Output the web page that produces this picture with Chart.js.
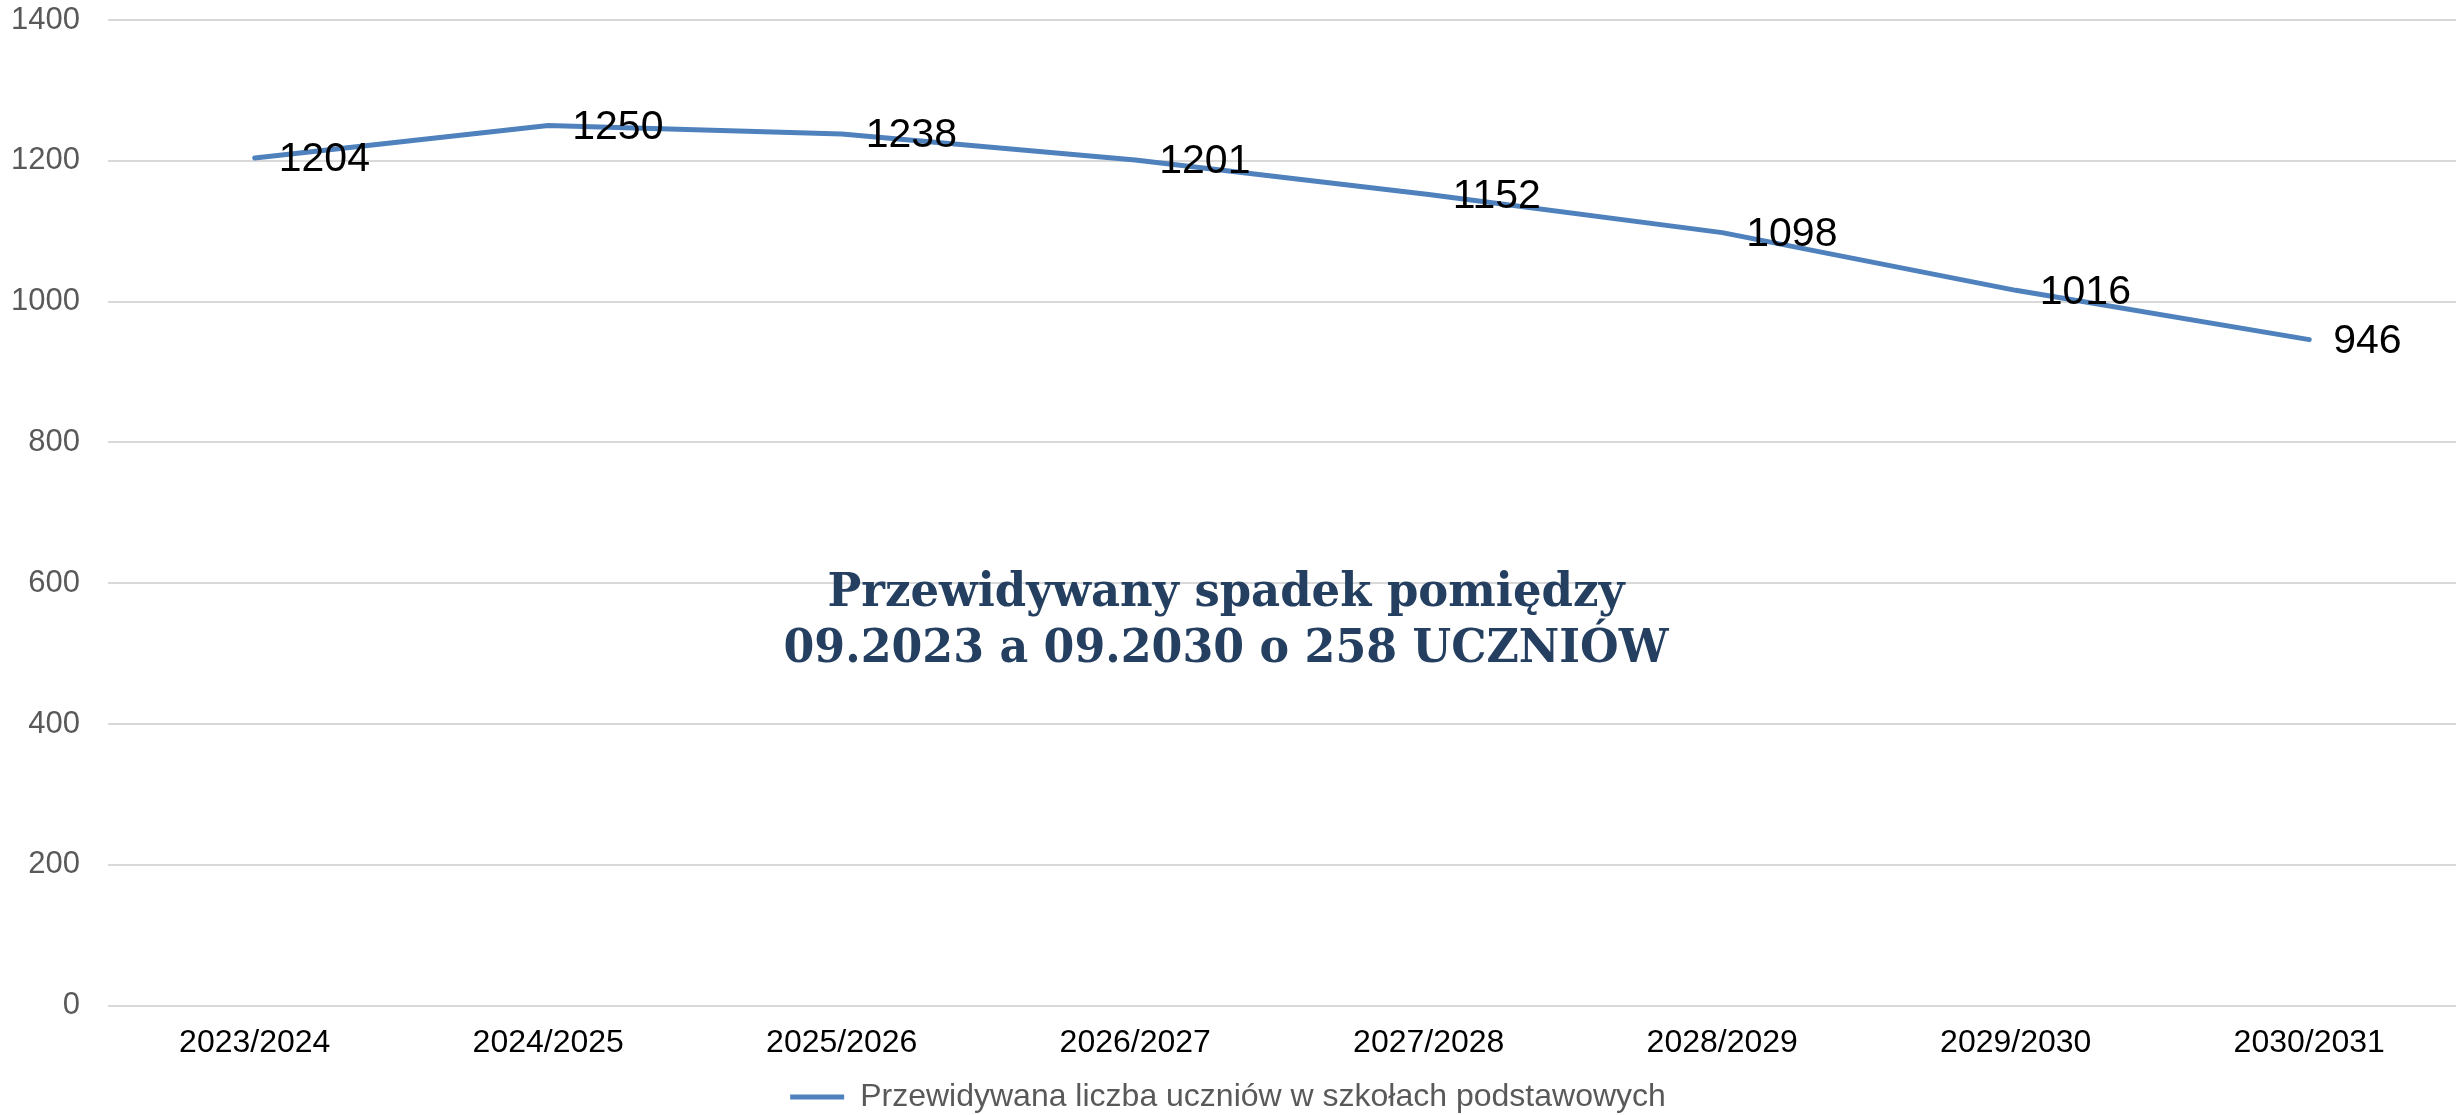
<!DOCTYPE html>
<html>
<head>
<meta charset="utf-8">
<script src="https://cdn.jsdelivr.net/npm/chart.js@4/dist/chart.umd.min.js"></script>
<style>
  html, body { margin: 0; padding: 0; background: #ffffff; }
  #wrap { position: relative; width: 2464px; height: 1115px; }
</style>
</head>
<body>
<div id="wrap"><canvas id="c"></canvas></div>
<script>
const categories = ["2023/2024", "2024/2025", "2025/2026", "2026/2027", "2027/2028", "2028/2029", "2029/2030", "2030/2031"];
const seriesName = "Przewidywana liczba uczniów w szkołach podstawowych";
const seriesValues = [1204, 1250, 1238, 1201, 1152, 1098, 1016, 946];
const yTicks = [0, 200, 400, 600, 800, 1000, 1200, 1400];
const annotationLines = ["Przewidywany spadek pomiędzy", "09.2023 a 09.2030 o 258 UCZNIÓW"];

const SANS = "'Liberation Sans', Arial, sans-serif";
const LINE_COLOR = "#4f81bd";

const dataLabelPlugin = {
  id: "dataLabels",
  afterDatasetsDraw(chart) {
    const ctx = chart.ctx;
    const meta = chart.getDatasetMeta(0);
    ctx.save();
    ctx.font = "41px " + SANS;
    ctx.fillStyle = "#000000";
    ctx.textAlign = "left";
    ctx.textBaseline = "middle";
    meta.data.forEach((pt, i) => {
      ctx.fillText(String(seriesValues[i]), pt.x + 24, pt.y + 2);
    });
    ctx.restore();
  }
};

const annotationPlugin = {
  id: "annotationText",
  afterDraw(chart) {
    const ctx = chart.ctx;
    const cx = 1226;
    const baselines = [606, 662];
    const widths = [797, 885];
    ctx.save();
    ctx.fillStyle = "#243f60";
    ctx.textAlign = "left";
    ctx.textBaseline = "alphabetic";
    ctx.font = "bold 46px 'DejaVu Serif', 'Liberation Serif', serif";
    annotationLines.forEach((t, i) => {
      const w = ctx.measureText(t).width;
      const s = widths[i] / w;
      ctx.save();
      ctx.translate(cx - widths[i] / 2, baselines[i]);
      ctx.scale(s, 1);
      ctx.fillText(t, 0, 0);
      ctx.restore();
    });
    ctx.restore();
  }
};

new Chart(document.getElementById("c"), {
  type: "line",
  data: {
    labels: categories,
    datasets: [{
      label: seriesName,
      data: seriesValues,
      borderColor: LINE_COLOR,
      backgroundColor: LINE_COLOR,
      borderWidth: 5,
      pointRadius: 0,
      pointHoverRadius: 0,
      tension: 0,
      fill: false,
      borderCapStyle: "round",
      borderJoinStyle: "round"
    }]
  },
  options: {
    responsive: true,
    maintainAspectRatio: false,
    animation: false,
    layout: { padding: { top: 20, right: 8, bottom: -8, left: 0 } },
    plugins: {
      tooltip: { enabled: false },
      legend: {
        display: true,
        position: "bottom",
        labels: {
          font: { size: 32, family: SANS },
          color: "#595959",
          boxWidth: 54,
          boxHeight: 5,
          padding: 0,
          generateLabels(chart) {
            const items = Chart.defaults.plugins.legend.labels.generateLabels(chart);
            items.forEach(it => { it.lineWidth = 0; it.fillStyle = LINE_COLOR; it.strokeStyle = LINE_COLOR; });
            return items;
          }
        }
      }
    },
    scales: {
      x: {
        offset: true,
        grid: { display: false, drawTicks: false },
        border: { display: false },
        ticks: {
          font: { size: 32, family: SANS },
          color: "#000000",
          padding: 18.5,
          maxRotation: 0,
          autoSkip: false
        }
      },
      y: {
        min: 0,
        max: 1400,
        afterBuildTicks(scale) { scale.ticks = yTicks.map(v => ({ value: v })); },
        afterFit(scale) { scale.width = 108; scale.paddingTop = 0; scale.paddingBottom = 0; },
        grid: { color: "#d9d9d9", lineWidth: 2, drawTicks: false },
        border: { display: false },
        ticks: {
          font: { size: 31, family: SANS },
          color: "#595959",
          padding: 28,
          callback: (v) => String(v)
        }
      }
    }
  },
  plugins: [dataLabelPlugin, annotationPlugin]
});
</script>
</body>
</html>
